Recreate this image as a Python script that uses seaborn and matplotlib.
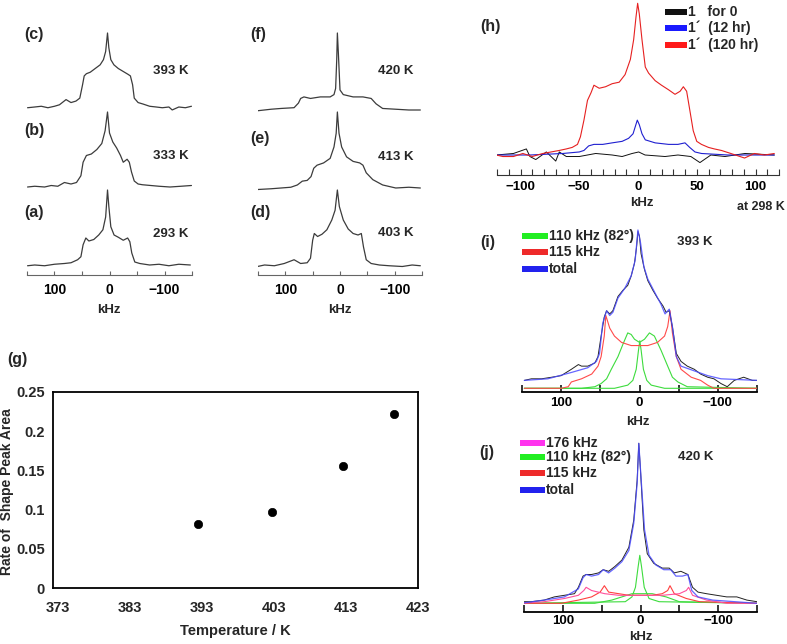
import matplotlib
matplotlib.use("Agg")
import matplotlib.pyplot as plt
import seaborn as sns
import pandas as pd
from matplotlib.patches import Rectangle

# ---------------- data ----------------
# panels (a)-(f): 2H spectra, kHz vs relative intensity
a_khz = [149, 136, 118, 100, 82, 70, 58, 52, 48, 43, 37.5, 28.6, 19.6, 12, 7, 3.6, 1.2, -2.4, -8.3, -16, -25, -33, -37, -40.5, -46, -55, -73, -90, -108, -126, -147]
a_int = [-0.01, 0.0, -0.01, 0.01, 0.02, 0.03, 0.07, 0.11, 0.27, 0.36, 0.32, 0.34, 0.40, 0.47, 0.64, 1.0, 0.78, 0.51, 0.40, 0.37, 0.33, 0.36, 0.31, 0.16, 0.04, 0.02, 0.0, 0.01, -0.01, 0.01, 0.0]
b_khz = [149, 136, 118, 106, 94, 82, 70, 60, 52, 48, 42, 33, 23, 14, 8, 3.6, 0, -6, -13, -20, -25, -32, -36, -40, -45, -52, -60, -75, -90, -110, -130, -149]
b_int = [0.0, 0.01, 0.0, 0.02, 0.01, 0.06, 0.04, 0.06, 0.15, 0.33, 0.42, 0.44, 0.50, 0.58, 0.75, 1.0, 0.72, 0.60, 0.52, 0.42, 0.33, 0.37, 0.33, 0.20, 0.08, 0.04, 0.03, 0.02, 0.01, 0.0, 0.01, 0.02]
c_khz = [149, 136, 124, 112, 100, 91, 79, 70, 61, 54, 49, 46, 42, 35, 26, 17, 11, 7, 3.6, 1.2, -2.4, -8, -16, -25, -34, -38, -42, -45, -52, -61, -73, -85, -96, -108, -114, -126, -138, -149]
c_int = [-0.01, 0.0, 0.01, -0.01, 0.01, 0.03, 0.10, 0.06, 0.08, 0.12, 0.30, 0.42, 0.45, 0.47, 0.52, 0.57, 0.64, 0.75, 1.0, 0.80, 0.64, 0.57, 0.52, 0.48, 0.44, 0.42, 0.30, 0.12, 0.06, 0.04, 0.01, 0.0, -0.01, 0.0, -0.04, 0.0, -0.01, 0.01]
d_khz = [151, 138, 120, 102, 84, 72, 60, 54, 50, 47, 41, 33, 24, 15, 9, 4.8, 1.2, -6, -15, -24, -33, -39, -43, -48, -57, -72, -90, -114, -132, -147]
d_int = [-0.02, 0.0, -0.01, 0.02, 0.07, 0.02, 0.03, 0.09, 0.33, 0.42, 0.38, 0.41, 0.47, 0.60, 0.73, 1.0, 0.78, 0.60, 0.48, 0.42, 0.40, 0.42, 0.24, 0.07, 0.02, 0.0, -0.01, -0.02, 0.0, -0.01]
e_khz = [151, 126, 108, 90, 78, 69, 60, 53, 48, 42, 30, 18, 11, 7, 4.8, 1.8, -3, -12, -24, -36, -42, -48, -60, -78, -102, -126, -147]
e_int = [-0.02, -0.01, 0.0, 0.01, 0.04, 0.09, 0.10, 0.15, 0.26, 0.30, 0.33, 0.39, 0.54, 0.72, 1.0, 0.72, 0.54, 0.41, 0.35, 0.33, 0.30, 0.20, 0.11, 0.04, 0.0, 0.01, 0.0]
f_khz = [151, 126, 108, 84, 76, 72, 66, 54, 36, 18, 11, 8, 6, 4.8, 3, 0, -6, -24, -42, -57, -66, -78, -102, -126, -147]
f_int = [-0.01, 0.01, 0.02, 0.03, 0.09, 0.15, 0.17, 0.15, 0.17, 0.17, 0.20, 0.28, 0.65, 1.0, 0.74, 0.26, 0.20, 0.17, 0.17, 0.15, 0.08, 0.02, 0.01, 0.0, 0.0]
spec_temps = ["293 K", "333 K", "393 K", "403 K", "413 K", "420 K"]

# panel (g)
g_temp = [392.5, 402.7, 412.6, 419.7]
g_rate = [0.082, 0.097, 0.155, 0.222]
g_xticks = [373, 383, 393, 403, 413, 423]
g_yticks = [0, 0.05, 0.1, 0.15, 0.2, 0.25]
g_yticklabels = ["0", "0.05", "0.1", "0.15", "0.2", "0.25"]

# panel (h)
h_red_khz = [-120.6, -115, -106, -98, -90, -81, -74, -67, -61, -56, -51.5, -49, -46, -43, -40, -37.5, -33, -27.6, -22, -16, -11, -6.5, -3.7, -1.7, -0.3, 1.1, 3.4, 6.2, 9, 14.6, 20, 26, 31.5, 35.8, 38.6, 41.4, 44, 47, 50, 54, 60, 65, 71, 79, 90.7, 99, 107.6, 116]
h_red_int = [0.0, -0.01, -0.01, 0.01, -0.01, 0.01, 0.02, 0.03, 0.04, 0.05, 0.07, 0.12, 0.23, 0.36, 0.41, 0.46, 0.44, 0.45, 0.47, 0.48, 0.53, 0.63, 0.76, 0.91, 1.0, 0.93, 0.76, 0.58, 0.54, 0.49, 0.46, 0.43, 0.40, 0.42, 0.45, 0.42, 0.30, 0.16, 0.09, 0.07, 0.05, 0.04, 0.03, 0.01, -0.02, 0.01, 0.0, 0.01]
h_blue_khz = [-120, -92, -64, -50, -46, -42, -37.5, -30, -22, -13.5, -8, -4.2, -2.2, -0.6, 1.1, 3.4, 6.2, 14.6, 26, 34, 40, 44, 48.5, 54, 76.6, 116]
h_blue_int = [0.0, 0.0, 0.01, 0.02, 0.03, 0.06, 0.07, 0.07, 0.08, 0.09, 0.11, 0.14, 0.19, 0.23, 0.20, 0.14, 0.10, 0.08, 0.07, 0.07, 0.08, 0.05, 0.02, 0.01, 0.0, 0.0]
h_black_khz = [-120.6, -106, -95, -92, -87, -78, -70, -67, -61, -50, -36, -22, -13.5, -5, 0.6, 6, 23, 34, 45, 52.7, 62, 74, 91, 116]
h_black_int = [0.0, 0.01, 0.04, -0.01, -0.03, 0.02, -0.04, 0.02, -0.01, -0.01, 0.01, 0.0, -0.01, 0.01, 0.02, 0.0, -0.01, 0.0, -0.01, -0.05, 0.0, -0.01, 0.01, 0.0]
h_labels = ["1   for 0", "1\u00b4  (12 hr)", "1\u00b4  (120 hr)"]

# panel (i) 393 K fit
i_exp_khz = [147, 138, 125, 112, 100, 87, 78, 74, 66, 57, 53, 49, 45, 42, 38, 34, 27.5, 21, 15, 10.6, 6.4, 3.8, 2, 0, -2, -6.4, -10.6, -17, -23, -30, -34, -38, -42, -47, -53, -61, -70, -78, -87, -95, -104, -112, -121, -133, -144, -150]
i_exp_int = [0.05, 0.06, 0.06, 0.07, 0.08, 0.12, 0.15, 0.14, 0.14, 0.16, 0.20, 0.33, 0.45, 0.49, 0.47, 0.49, 0.58, 0.62, 0.65, 0.71, 0.79, 0.89, 0.99, 0.96, 0.85, 0.75, 0.68, 0.62, 0.57, 0.52, 0.48, 0.49, 0.39, 0.22, 0.17, 0.14, 0.12, 0.09, 0.07, 0.06, 0.03, 0.01, 0.05, 0.07, 0.05, 0.05]
i_tot_khz = [147, 117, 87, 66, 55, 51, 47, 42, 38, 34, 27.5, 19, 10.6, 5.5, 2, -1.3, -5.5, -10.6, -19, -27.5, -32.6, -38, -42, -47, -53, -70, -87, -104, -150]
i_tot_int = [0.05, 0.06, 0.10, 0.13, 0.17, 0.22, 0.41, 0.49, 0.46, 0.48, 0.57, 0.63, 0.71, 0.81, 1.0, 0.92, 0.77, 0.69, 0.61, 0.53, 0.47, 0.50, 0.39, 0.20, 0.14, 0.11, 0.08, 0.06, 0.05]
i_115_khz = [147, 100, 91, 87, 74, 61, 53, 49, 45, 43, 38, 32, 23, 10.6, 0, -10.6, -23, -32, -36, -39, -42, -47, -53, -66, -78, -87, -95, -150]
i_115_int = [0.0, 0.0, 0.01, 0.04, 0.06, 0.09, 0.14, 0.20, 0.33, 0.46, 0.38, 0.33, 0.29, 0.27, 0.27, 0.27, 0.29, 0.33, 0.39, 0.49, 0.35, 0.20, 0.12, 0.07, 0.05, 0.02, 0.0, 0.0]
i_110_khz = [147, 74, 57, 49, 42, 36, 27.5, 21, 15, 10.6, 6.4, 0, -6.4, -12.7, -19, -27.5, -36, -42, -49, -61, -150]
i_110_int = [0.0, 0.0, 0.01, 0.03, 0.06, 0.12, 0.20, 0.28, 0.35, 0.34, 0.31, 0.29, 0.31, 0.35, 0.33, 0.24, 0.14, 0.07, 0.04, 0.01, 0.0]
i_ctr_khz = [147, 32, 15, 8.5, 4.2, 1.3, -0.4, -2.1, -5, -9.3, -15, -32, -150]
i_ctr_int = [0.0, 0.0, 0.02, 0.05, 0.12, 0.24, 0.30, 0.24, 0.12, 0.05, 0.02, 0.0, 0.0]
i_labels = ["110 kHz (82\u00b0)", "115 kHz", "total"]

# panel (j) 420 K fit
j_exp_khz = [154, 141, 124, 111, 98, 85, 80, 74, 70, 63, 54, 48, 41, 33, 24, 15, 8.7, 4.3, 2.2, 0, -4.3, -8.7, -17, -28, -37, -43.5, -52, -61, -67, -74, -85, -98, -111, -124, -137, -150]
j_exp_int = [0.01, 0.01, 0.02, 0.04, 0.05, 0.06, 0.10, 0.17, 0.18, 0.18, 0.19, 0.21, 0.20, 0.23, 0.27, 0.35, 0.52, 0.77, 1.0, 0.83, 0.46, 0.31, 0.25, 0.22, 0.22, 0.19, 0.20, 0.18, 0.10, 0.07, 0.06, 0.05, 0.04, 0.04, 0.02, 0.01]
j_tot_khz = [154, 124, 98, 80, 74, 70, 63, 54, 48, 41, 33, 24, 15, 8.7, 4.3, 2.2, -0.9, -5.2, -11, -19.6, -30, -39, -45.6, -54, -61, -66, -74, -93, -150]
j_tot_int = [0.0, 0.02, 0.04, 0.09, 0.16, 0.18, 0.17, 0.18, 0.21, 0.19, 0.22, 0.26, 0.33, 0.50, 0.75, 1.0, 0.77, 0.46, 0.30, 0.24, 0.21, 0.21, 0.17, 0.17, 0.18, 0.08, 0.04, 0.02, 0.0]
j_115_khz = [154, 102, 80, 63, 52, 46.5, 41, 28, 15, 0, -15, -28, -35, -38, -43.5, -59, -76, -150]
j_115_int = [0.0, 0.0, 0.02, 0.04, 0.07, 0.11, 0.07, 0.06, 0.05, 0.05, 0.05, 0.06, 0.08, 0.11, 0.06, 0.03, 0.01, 0.0]
j_176_khz = [154, 124, 98, 80, 73, 70, 63, 46, 28, 0, -28, -50, -59, -62, -67, -85, -111, -150]
j_176_int = [0.0, 0.01, 0.03, 0.05, 0.08, 0.10, 0.08, 0.06, 0.05, 0.05, 0.05, 0.06, 0.08, 0.10, 0.05, 0.02, 0.0, 0.0]
j_110_khz = [154, 59, 37, 24, 11, 0, -15, -33, -50, -150]
j_110_int = [0.0, 0.0, 0.02, 0.04, 0.06, 0.06, 0.06, 0.04, 0.01, 0.0]
j_ctr_khz = [154, 19.6, 11, 6.5, 3, 0.9, -1.3, -4.8, -11, -24, -150]
j_ctr_int = [0.0, 0.01, 0.04, 0.10, 0.23, 0.30, 0.23, 0.10, 0.03, 0.01, 0.0]
j_labels = ["176 kHz", "110 kHz (82\u00b0)", "115 kHz", "total"]

# ---------------- style ----------------
sns.set_theme(style="white")
plt.rcParams["font.family"] = ["Liberation Sans", "DejaVu Sans"]
plt.rcParams["font.weight"] = "bold"
plt.rcParams["axes.labelweight"] = "bold"

W, H = 787, 644
fig = plt.figure(figsize=(W / 100, H / 100), dpi=100)
fig.patch.set_facecolor("white")


def box(l, t, r, b):
    return [l / W, 1 - b / H, (r - l) / W, (b - t) / H]


def ftext(x, y, s, size=10, ha="left", va="center", **kw):
    fig.text(x / W, 1 - y / H, s, fontsize=size, fontweight="bold", ha=ha, va=va, **kw)


def frect(l, t, r, b, color):
    fig.add_artist(Rectangle((l / W, 1 - b / H), (r - l) / W, (b - t) / H,
                             transform=fig.transFigure, facecolor=color, edgecolor="none"))


def spec_ax(l, r, top, bottom, base, peak, xlim):
    ax = fig.add_axes(box(l, top, r, bottom))
    s = base - peak
    ax.set_ylim(-(bottom - base) / s, 1 + (peak - top) / s)
    ax.set_xlim(*xlim)
    ax.patch.set_alpha(0)
    for sp in ax.spines.values():
        sp.set_visible(False)
    ax.set_yticks([])
    ax.set_xticks([])
    return ax


def line(ax, x, y, color, lw=0.8, alpha=1.0):
    df = pd.DataFrame({"kHz": x, "I": y})
    sns.lineplot(data=df, x="kHz", y="I", ax=ax, color=color, lw=lw, alpha=alpha,
                 estimator=None, sort=False)
    ax.set_xlabel("")
    ax.set_ylabel("")


def khz_axis(ax, ticks, labels, size, pad, length=3, width=0.8, color="#555555", spine_lw=0.8):
    ax.spines["bottom"].set_visible(True)
    ax.spines["bottom"].set_color(color)
    ax.spines["bottom"].set_linewidth(spine_lw)
    ax.set_xticks(ticks)
    ax.set_xticklabels(labels, fontsize=size, fontweight="bold")
    ax.tick_params(axis="x", direction="in", length=length, width=width, color=color,
                   pad=pad, bottom=True, labelcolor="black")


# ---------------- panels (a)-(f) ----------------
spec_gray = "#3c3c3c"
col_ticks = [150, 100, 50, 0, -50, -100, -150]
col_labels = ["", "100", "", "0", "", "\u2212100", ""]
columns = [
    (27, 192, [(c_khz, c_int, 28, 112, 107, 33), (b_khz, b_int, 108, 192, 187, 112), (a_khz, a_int, 186, 275, 265, 190)],
     [("(c)", 34, spec_temps[2], 71), ("(b)", 130, spec_temps[1], 156), ("(a)", 213, spec_temps[0], 234)], 24, 153, 109),
    (258, 422, [(f_khz, f_int, 28, 115, 110, 33), (e_khz, e_int, 108, 192, 188, 112), (d_khz, d_int, 186, 275, 265, 190)],
     [("(f)", 34, spec_temps[5], 71), ("(e)", 139, spec_temps[4], 157), ("(d)", 213, spec_temps[3], 233)], 250, 378, 340),
]
for l, r, specs, labels, lab_x, temp_x, khz_x in columns:
    for k, (xs, ys, top, bottom, base, peak) in enumerate(specs):
        ax = spec_ax(l, r, top, bottom, base, peak, (150, -150))
        line(ax, xs, ys, spec_gray, lw=0.9)
        if k == 2:
            khz_axis(ax, col_ticks, col_labels, 10, 5.5, length=3, color="#666666")
    for lab, ly, temp, ty in labels:
        ftext(lab_x, ly, lab, size=11.5)
        ftext(temp_x, ty, temp, size=9.5)
    ftext(khz_x, 310, "kHz", size=9.5, ha="center")

# ---------------- panel (g) ----------------
axg = fig.add_axes(box(53, 392, 418, 588))
sns.scatterplot(x=g_temp, y=g_rate, ax=axg, color="black", s=36, edgecolor="black", linewidth=0.5)
axg.set_xlim(372.3, 422.7)
axg.set_ylim(0, 0.25)
axg.set_xticks(g_xticks)
axg.set_xticklabels([str(t) for t in g_xticks], fontsize=10.5, fontweight="bold")
axg.set_yticks(g_yticks)
axg.set_yticklabels(g_yticklabels, fontsize=10.5, fontweight="bold")
axg.tick_params(length=0, pad=6)
axg.tick_params(axis="x", pad=9)
for sp in axg.spines.values():
    sp.set_visible(True)
    sp.set_color("black")
    sp.set_linewidth(1.3)
axg.set_xlabel("Temperature / K", fontsize=10.5, fontweight="bold", labelpad=7)
axg.set_ylabel("Rate of  Shape Peak Area", fontsize=10, fontweight="bold")
axg.yaxis.set_label_coords(-0.108, 0.49)
ftext(7, 360, "(g)", size=11.5)

# ---------------- panel (h) ----------------
axh = spec_ax(497, 779, 0, 175, 155, 3.3, (-120, 120))
line(axh, h_black_khz, h_black_int, "#111111", lw=0.7)
line(axh, h_blue_khz, h_blue_int, "#1f1fd0", lw=0.8)
line(axh, h_red_khz, h_red_int, "#e62020", lw=0.8)
h_ticks = list(range(-120, 121, 10))
h_lab = [("\u2212" + str(-t) if t < 0 else str(t)) if t % 50 == 0 else "" for t in h_ticks]
khz_axis(axh, h_ticks, h_lab, 9.5, 4.5, length=4, color="#333333")
ftext(480, 26, "(h)", size=11.5)
ftext(642, 203, "kHz", size=9.5, ha="center")
ftext(785, 207, "at 298 K", size=9, ha="right")
for (lab, col, y) in zip(h_labels, ["#111111", "#1a1aff", "#ff1a1a"], [12, 28, 45]):
    frect(665, y - 3, 687, y + 3, col)
    ftext(688, y, lab, size=10)

# ---------------- panel (i) ----------------
axi = spec_ax(522, 757, 222, 392, 388.3, 230, (150, -150))
line(axi, i_110_khz, i_110_int, "#3ddc3d", lw=0.8)
line(axi, i_ctr_khz, i_ctr_int, "#3ddc3d", lw=0.8)
line(axi, i_115_khz, i_115_int, "#ff4a4a", lw=0.8)
line(axi, i_exp_khz, i_exp_int, "#222222", lw=0.7)
line(axi, i_tot_khz, i_tot_int, "#4b4bff", lw=0.9, alpha=0.85)
ij_ticks = [150, 100, 50, 0, -50, -100, -150]
ij_lab = ["", "100", "", "0", "", "\u2212100", ""]
khz_axis(axi, ij_ticks, ij_lab, 9.5, 3.5, length=5, width=1.1, color="black", spine_lw=1.3)
ftext(480, 243, "(i)", size=11.5)
ftext(677, 242, "393 K", size=9.5)
ftext(638, 422, "kHz", size=9.5, ha="center")
for (lab, col, y) in zip(i_labels, ["#22ee22", "#ee2a2a", "#2222ee"], [236, 252, 269]):
    frect(522, y - 3, 548, y + 3, col)
    ftext(549, y, lab, size=10)

# ---------------- panel (j) ----------------
axj = spec_ax(524, 757, 438, 612, 603.3, 443.3, (150, -150))
line(axj, j_110_khz, j_110_int, "#3ddc3d", lw=0.8)
line(axj, j_ctr_khz, j_ctr_int, "#3ddc3d", lw=0.8)
line(axj, j_115_khz, j_115_int, "#ff4040", lw=0.8)
line(axj, j_176_khz, j_176_int, "#ff4f9a", lw=0.8)
line(axj, j_exp_khz, j_exp_int, "#222222", lw=0.7)
line(axj, j_tot_khz, j_tot_int, "#4b4bff", lw=0.9, alpha=0.85)
khz_axis(axj, ij_ticks, ij_lab, 9.5, 2.0, length=5, width=1.1, color="black", spine_lw=1.3)
ftext(479, 453, "(j)", size=11.5)
ftext(678, 457, "420 K", size=9.5)
ftext(641, 637, "kHz", size=9.5, ha="center")
for (lab, col, y) in zip(j_labels, ["#ff33ee", "#22ee22", "#ee2a2a", "#2222ee"], [443, 457, 473, 490]):
    frect(520, y - 3, 545, y + 3, col)
    ftext(546, y, lab, size=10)

fig.savefig("out.png", dpi=100)
